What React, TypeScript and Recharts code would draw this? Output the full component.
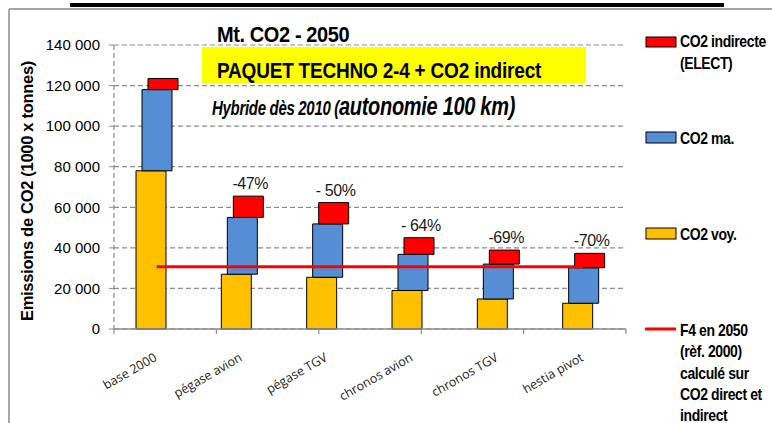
import {
  Bar,
  CartesianGrid,
  ComposedChart,
  LabelList,
  Line,
  ReferenceLine,
  XAxis,
  YAxis,
} from "recharts";

const categories = [
  "base 2000",
  "pégase avion",
  "pégase TGV",
  "chronos avion",
  "chronos TGV",
  "hestia pivot",
];
// CO2 voyageurs, CO2 matériel, CO2 indirect (1000 x tonnes), stacked in that order
const co2Voy = [78000, 27000, 25500, 19000, 14800, 12700];
const co2Ma = [40000, 28000, 26300, 17800, 17200, 17500];
const co2Ind = [5500, 10500, 10500, 8200, 6900, 7100];
// F4 target in 2050 (ref. 2000), direct + indirect
const f4Target = [30700, 30700, 30700, 30700, 30700, 30700];
const reductionLabels = ["", "-47%", "- 50%", "- 64%", "-69%", "-70%"];
const yTicks = [0, 20000, 40000, 60000, 80000, 100000, 120000, 140000];
const boundaryTicks = [0, 1, 2, 3, 4, 5, 6];

const FONT = "'Liberation Sans', Arial, sans-serif";
const GRID = "#8c8c8c";

const data = categories.map((name, i) => {
  const voy = co2Voy[i];
  const ma = voy + co2Ma[i];
  const ind = ma + co2Ind[i];
  return {
    name,
    voy: [0, voy],
    ma: [voy, ma],
    ind: [ma, ind],
    f4: f4Target[i],
    pct: reductionLabels[i],
  };
});

const fmt = (v: number) => String(v).replace(/\B(?=(\d{3})+(?!\d))/g, " ");

function CategoryTick({ x, y, payload }: any) {
  return (
    <g transform={`translate(${x + 1} ${y + 31}) rotate(-30)`}>
      <text
        x={0}
        y={0}
        textAnchor="end"
        fontFamily="'Open Sans', sans-serif"
        fontSize={12.5}
        fill="#222"
      >
        {payload.value}
      </text>
    </g>
  );
}

function PctLabel({ x, y, width, value }: any) {
  if (!value) return null;
  return (
    <text
      x={x + width / 2 + 2}
      y={y - 7}
      textAnchor="middle"
      fontFamily={FONT}
      fontSize={16}
      letterSpacing={-0.4}
      fill="#1a1a1a"
    >
      {value}
    </text>
  );
}

function Overlay() {
  const legendText = {
    fontFamily: FONT,
    fontWeight: 700,
    fontSize: 14,
    fill: "#000",
    letterSpacing: -0.4,
  } as const;
  const sy = (x: number, y: number, k: number) =>
    `translate(${x} ${y}) scale(1 ${k})`;
  return (
    <svg
      width={772}
      height={423}
      style={{ position: "absolute", left: 0, top: 0, pointerEvents: "none" }}
    >
      {/* frame + cut title underline */}
      <line x1={9} y1={9} x2={772} y2={9} stroke="#a6a6a6" strokeWidth={2} />
      <line x1={9} y1={9} x2={9} y2={423} stroke="#a6a6a6" strokeWidth={2} />
      <rect x={70} y={3} width={654} height={4} fill="#000" />

      {/* annotations */}
      <text
        transform={sy(217, 42, 1.1)}
        fontFamily={FONT}
        fontWeight={700}
        fontSize={20}
        letterSpacing={-0.4}
      >
        Mt. CO2 - 2050
      </text>
      <rect x={202} y={47} width={384} height={36} fill="#ffff00" />
      <text
        transform={sy(217, 78, 1.15)}
        fontFamily={FONT}
        fontWeight={700}
        fontSize={19}
        letterSpacing={-0.2}
      >
        PAQUET TECHNO 2-4 + CO2 indirect
      </text>
      <text
        transform={sy(212, 115, 1.3)}
        fontFamily={FONT}
        fontWeight={700}
        fontStyle="italic"
        letterSpacing={-0.3}
      >
        <tspan fontSize={15}>Hybride dès 2010 (</tspan>
        <tspan fontSize={20}>autonomie 100 km)</tspan>
      </text>

      {/* y axis title */}
      <text
        transform="translate(33 191) rotate(-90)"
        textAnchor="middle"
        fontFamily={FONT}
        fontWeight={700}
        fontSize={16.5}
        letterSpacing={-0.3}
      >
        Emissions de CO2 (1000 x tonnes)
      </text>

      {/* legend */}
      <rect x={646} y={37} width={30} height={10} fill="#ff0000" stroke="#000" />
      <text transform={sy(680, 47, 1.2)} {...legendText}>
        CO2 indirecte
      </text>
      <text transform={sy(680, 69, 1.2)} {...legendText}>
        (ELECT)
      </text>
      <rect x={646} y={132} width={30} height={11} fill="#558ed5" stroke="#000" />
      <text transform={sy(680, 144, 1.2)} {...legendText}>
        CO2 ma.
      </text>
      <rect x={646} y={228} width={30} height={11} fill="#ffc000" stroke="#000" />
      <text transform={sy(680, 240, 1.2)} {...legendText}>
        CO2 voy.
      </text>
      <line x1={645} y1={329} x2={676} y2={329} stroke="#ff0000" strokeWidth={3} />
      {[
        "F4 en 2050",
        "(rèf. 2000)",
        "calculé sur",
        "CO2 direct et",
        "indirect",
      ].map((t, i) => (
        <text key={t} transform={sy(680, 336 + i * 21.3, 1.2)} {...legendText}>
          {t}
        </text>
      ))}
    </svg>
  );
}

export default function App() {
  return (
    <div
      style={{
        position: "absolute",
        left: 0,
        top: 0,
        width: 772,
        height: 423,
        background: "#fff",
        overflow: "hidden",
      }}
    >
      <ComposedChart
        width={772}
        height={423}
        data={data}
        margin={{ top: 45, right: 146, bottom: 34, left: 0 }}
        barSize={30}
        barGap={-24}
      >
        <CartesianGrid
          vertical={false}
          stroke={GRID}
          strokeDasharray="5 3"
          strokeWidth={1.2}
        />
        <XAxis
          dataKey="name"
          height={60}
          interval={0}
          tickLine={false}
          tickSize={0}
          tickMargin={0}
          axisLine={{ stroke: GRID, strokeWidth: 1.5 }}
          tick={CategoryTick}
        />
        <XAxis xAxisId="grid" type="number" domain={[0, 6]} hide />
        <YAxis
          width={114}
          domain={[0, 140000]}
          ticks={yTicks}
          tickFormatter={fmt}
          tick={{ fontSize: 15, fill: "#000", fontFamily: FONT }}
          tickLine={{ stroke: GRID }}
          tickSize={5}
          tickMargin={9}
          axisLine={{ stroke: GRID, strokeDasharray: "5 3", strokeWidth: 1.2 }}
        />
        {boundaryTicks.map((t) => (
          <ReferenceLine
            key={t}
            xAxisId="grid"
            segment={[
              { x: t, y: 0 },
              { x: t, y: -2500 },
            ]}
            ifOverflow="visible"
            stroke={GRID}
            strokeWidth={1.2}
          />
        ))}
        <ReferenceLine x={6} xAxisId="grid" stroke={GRID} strokeWidth={1.5} />
        <Bar
          dataKey="voy"
          fill="#ffc000"
          stroke="#000"
          strokeWidth={1}
          isAnimationActive={false}
        />
        <Bar
          dataKey="ma"
          fill="#558ed5"
          stroke="#000"
          strokeWidth={1}
          isAnimationActive={false}
        />
        <Bar
          dataKey="ind"
          fill="#ff0000"
          stroke="#000"
          strokeWidth={1}
          isAnimationActive={false}
        >
          <LabelList dataKey="pct" content={PctLabel} />
        </Bar>
        <Line
          dataKey="f4"
          stroke="#ff0000"
          strokeWidth={3}
          dot={false}
          activeDot={false}
          isAnimationActive={false}
        />
      </ComposedChart>
      <Overlay />
    </div>
  );
}
